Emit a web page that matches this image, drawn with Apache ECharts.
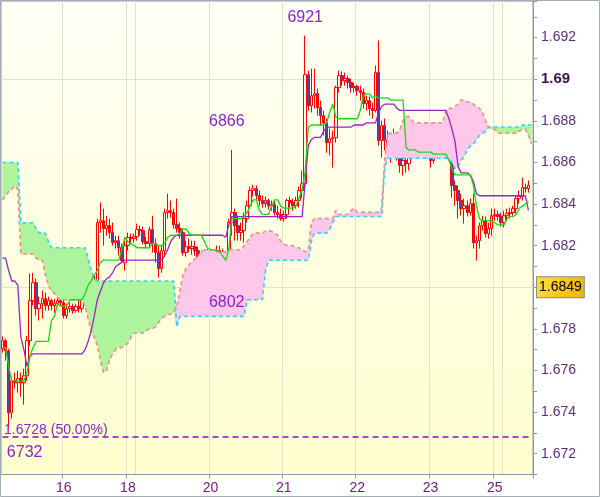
<!DOCTYPE html>
<html><head><meta charset="utf-8">
<script src="https://cdn.jsdelivr.net/npm/echarts@6/dist/echarts.min.js"></script>
<style>html,body{margin:0;padding:0;background:#fff}#c{width:600px;height:497px}</style>
</head><body><div id="c"></div>
<script>
// ---------- DATA ----------
const slotCount = 174; // hourly slots
const dayLabels = {20:'16', 41:'18', 68:'20', 92:'21', 116:'22', 140:'23', 161:'25'};
const dayStarts = [20, 41, 44, 68, 92, 116, 140, 161, 164];
const yGridValues = [1.672,1.674,1.676,1.678,1.680,1.682,1.684,1.686,1.688,1.690,1.692];

const opens = [
1.67705,1.67743,1.67695,1.67397,1.67551,1.67541,1.67561,1.67541,1.67575,1.67743,
1.67936,1.68022,1.67897,1.67921,1.67945,1.67912,1.67936,1.67912,1.67921,1.67936,
1.67926,1.67864,1.67897,1.67907,1.67888,1.67907,1.67897,1.67960,1.68046,1.68008,
1.67984,1.68008,1.68311,1.68320,1.68282,1.68296,1.68263,1.68214,1.68224,1.68191,
1.68118,1.68200,1.68239,1.68234,1.68243,1.68277,1.68272,1.68219,1.68210,1.68277,
1.68210,1.68167,1.68090,1.68176,1.68359,1.68368,1.68359,1.68301,1.68282,1.68263,
1.68167,1.68195,1.68186,1.68195,1.68176,1.68128,1.68147,1.68142,1.68152,1.68138,
1.68109,1.68176,1.68167,1.68128,1.68056,1.68311,1.68359,1.68296,1.68263,1.68272,
1.68330,1.68392,1.68465,1.68474,1.68441,1.68417,1.68402,1.68417,1.68392,1.68397,
1.68359,1.68349,1.68330,1.68349,1.68417,1.68407,1.68392,1.68417,1.68465,1.68498,
1.69022,1.68873,1.68921,1.68931,1.68864,1.68825,1.68791,1.68695,1.68714,1.68719,
1.68960,1.69017,1.68993,1.69003,1.68984,1.68960,1.68965,1.68945,1.68936,1.68883,
1.68897,1.68859,1.68849,1.69032,1.68705,1.68777,1.68705,1.68657,1.68681,1.68729,
1.68657,1.68585,1.68609,1.68594,1.68647,1.68666,1.68690,1.68671,1.68690,1.68666,
1.68657,1.68609,1.68666,1.68681,1.68705,1.68729,1.68739,1.68633,1.68489,1.68465,
1.68417,1.68378,1.68392,1.68359,1.68402,1.68214,1.68224,1.68296,1.68320,1.68258,
1.68282,1.68344,1.68349,1.68340,1.68311,1.68344,1.68354,1.68359,1.68378,1.68426,
1.68436,1.68479,1.68474];
const closes = [
1.67743,1.67695,1.67397,1.67551,1.67541,1.67561,1.67541,1.67575,1.67743,1.67936,
1.68022,1.67897,1.67921,1.67945,1.67912,1.67936,1.67912,1.67921,1.67936,1.67926,
1.67864,1.67897,1.67907,1.67888,1.67907,1.67897,1.67960,1.68046,1.68008,1.67984,
1.68008,1.68311,1.68320,1.68282,1.68296,1.68263,1.68214,1.68224,1.68191,1.68128,
1.68200,1.68239,1.68234,1.68243,1.68277,1.68272,1.68219,1.68210,1.68277,1.68210,
1.68167,1.68090,1.68176,1.68359,1.68368,1.68359,1.68301,1.68282,1.68263,1.68167,
1.68195,1.68186,1.68195,1.68176,1.68128,1.68147,1.68142,1.68152,1.68138,1.68109,
1.68176,1.68167,1.68128,1.68056,1.68311,1.68359,1.68296,1.68263,1.68272,1.68330,
1.68392,1.68465,1.68474,1.68441,1.68417,1.68402,1.68417,1.68392,1.68397,1.68359,
1.68349,1.68330,1.68349,1.68417,1.68407,1.68392,1.68417,1.68465,1.68498,1.69022,
1.68873,1.68921,1.68931,1.68864,1.68825,1.68791,1.68695,1.68714,1.68719,1.68960,
1.69017,1.68993,1.69003,1.68984,1.68960,1.68965,1.68945,1.68936,1.68883,1.68897,
1.68859,1.68849,1.69032,1.68705,1.68777,1.68705,1.68657,1.68681,1.68729,1.68657,
1.68585,1.68609,1.68594,1.68647,1.68666,1.68690,1.68671,1.68690,1.68666,1.68657,
1.68609,1.68666,1.68681,1.68705,1.68729,1.68739,1.68633,1.68489,1.68465,1.68417,
1.68378,1.68392,1.68359,1.68402,1.68214,1.68224,1.68296,1.68320,1.68258,1.68282,
1.68344,1.68349,1.68340,1.68311,1.68344,1.68354,1.68359,1.68378,1.68426,1.68436,
1.68479,1.68474,1.68490];
const highs = [
1.67763,1.67753,1.67705,1.67570,1.67590,1.67599,1.67590,1.67609,1.67767,1.68066,
1.68070,1.68042,1.67955,1.67984,1.67974,1.67955,1.67945,1.67945,1.67950,1.67950,
1.67945,1.67921,1.67926,1.67921,1.67921,1.67936,1.67984,1.68090,1.68070,1.68032,
1.68056,1.68330,1.68407,1.68378,1.68344,1.68330,1.68311,1.68248,1.68248,1.68210,
1.68224,1.68263,1.68258,1.68258,1.68306,1.68296,1.68291,1.68243,1.68291,1.68344,
1.68234,1.68200,1.68200,1.68378,1.68450,1.68417,1.68378,1.68426,1.68311,1.68282,
1.68224,1.68234,1.68224,1.68224,1.68195,1.68176,1.68176,1.68186,1.68176,1.68176,
1.68200,1.68200,1.68186,1.68152,1.68330,1.68660,1.68378,1.68344,1.68311,1.68359,
1.68417,1.68484,1.68493,1.68489,1.68465,1.68441,1.68436,1.68426,1.68417,1.68417,
1.68392,1.68378,1.68368,1.68426,1.68436,1.68426,1.68436,1.68484,1.68561,1.69210,
1.69041,1.69051,1.69051,1.68955,1.68897,1.68849,1.68811,1.68763,1.68753,1.68969,
1.69041,1.69037,1.69032,1.69017,1.69003,1.68984,1.68974,1.68969,1.68955,1.68921,
1.68917,1.68888,1.69066,1.69186,1.68801,1.68811,1.68753,1.68729,1.68763,1.68743,
1.68681,1.68633,1.68657,1.68666,1.68690,1.68714,1.68714,1.68714,1.68705,1.68690,
1.68681,1.68690,1.68705,1.68729,1.68753,1.68758,1.68753,1.68657,1.68513,1.68489,
1.68450,1.68426,1.68417,1.68426,1.68450,1.68248,1.68311,1.68344,1.68340,1.68311,
1.68378,1.68378,1.68368,1.68359,1.68368,1.68378,1.68383,1.68392,1.68441,1.68465,
1.68527,1.68498,1.68513];
const lows = [
1.67686,1.67647,1.67320,1.67368,1.67513,1.67493,1.67474,1.67436,1.67551,1.67719,
1.67912,1.67864,1.67840,1.67849,1.67888,1.67888,1.67888,1.67878,1.67907,1.67912,
1.67849,1.67849,1.67878,1.67873,1.67878,1.67878,1.67878,1.67936,1.67984,1.67936,
1.67926,1.67974,1.68263,1.68200,1.68248,1.68234,1.68200,1.68186,1.68152,1.68118,
1.68080,1.68176,1.68210,1.68214,1.68224,1.68248,1.68205,1.68186,1.68186,1.68167,
1.68118,1.68046,1.68070,1.68152,1.68330,1.68335,1.68282,1.68263,1.68234,1.68152,
1.68147,1.68167,1.68157,1.68152,1.68114,1.68118,1.68128,1.68118,1.68090,1.68090,
1.68090,1.68147,1.68118,1.68020,1.68032,1.68248,1.68224,1.68224,1.68224,1.68214,
1.68311,1.68378,1.68436,1.68417,1.68392,1.68383,1.68383,1.68373,1.68368,1.68344,
1.68330,1.68320,1.68315,1.68330,1.68383,1.68368,1.68378,1.68383,1.68431,1.68474,
1.68849,1.68840,1.68859,1.68825,1.68777,1.68729,1.68647,1.68633,1.68575,1.68695,
1.68936,1.68969,1.68969,1.68955,1.68936,1.68936,1.68921,1.68897,1.68859,1.68849,
1.68825,1.68811,1.68840,1.68681,1.68623,1.68657,1.68618,1.68599,1.68633,1.68609,
1.68551,1.68537,1.68551,1.68561,1.68618,1.68647,1.68633,1.68647,1.68647,1.68618,
1.68575,1.68594,1.68647,1.68657,1.68676,1.68695,1.68609,1.68431,1.68392,1.68330,
1.68344,1.68306,1.68340,1.68344,1.68186,1.68128,1.68186,1.68272,1.68239,1.68234,
1.68248,1.68320,1.68320,1.68291,1.68287,1.68320,1.68330,1.68344,1.68354,1.68402,
1.68417,1.68455,1.68455];

const tenkan = [
1.6771,1.6771,1.6762,1.6755,1.6755,1.6755,1.6755,1.6755,1.6759,1.6767,
1.6771,1.6774,1.6774,1.6774,1.6774,1.6774,1.6784,1.6786,1.6792,1.6791,
1.6791,1.6791,1.6794,1.6794,1.6794,1.6794,1.6794,1.6797,1.6801,1.6803,
1.6806,1.6808,1.6812,1.6813,1.6813,1.6813,1.6813,1.6813,1.6813,1.6818,
1.6824,1.6822,1.6821,1.6820,1.6819,1.6819,1.6819,1.6819,1.6819,1.6821,
1.6821,1.6820,1.6820,1.6821,1.6824,1.6825,1.6825,1.6825,1.6826,1.6828,
1.6828,1.6826,1.6825,1.6825,1.6825,1.6825,1.6822,1.6819,1.6818,1.6818,
1.6818,1.6817,1.6815,1.6813,1.6818,1.6833,1.6833,1.6833,1.6833,1.6834,
1.6836,1.6839,1.6842,1.6842,1.6837,1.6835,1.6835,1.6835,1.6839,1.6842,
1.6842,1.6839,1.6838,1.6838,1.6838,1.6838,1.6839,1.6843,1.6847,1.6856,
1.6877,1.6878,1.6878,1.6878,1.6878,1.6878,1.6879,1.6884,1.6888,1.6882,
1.6881,1.6881,1.6881,1.6881,1.6881,1.6881,1.6881,1.6885,1.6892,1.6893,
1.6893,1.6891,1.6892,1.6891,1.6891,1.6891,1.6891,1.6890,1.6890,1.6890,
1.6890,1.6890,1.6867,1.6866,1.6866,1.6866,1.6865,1.6865,1.6865,1.6865,
1.6865,1.6864,1.6864,1.6864,1.6864,1.6864,1.6861,1.6857,1.6854,1.6854,
1.6854,1.6854,1.6854,1.6854,1.6849,1.6839,1.6833,1.6832,1.6832,1.6832,
1.6832,1.6831,1.6830,1.6830,1.6830,1.6833,1.6834,1.6834,1.6835,1.6838,
1.6839,1.6840,1.6841,null];
const kijun = [
1.6814,1.6814,1.6808,1.6803,1.6803,1.6801,1.6776,1.6770,1.6762,1.6767,
1.6768,1.6768,1.6768,1.6768,1.6768,1.6768,1.6768,1.6768,1.6768,1.6768,
1.6768,1.6768,1.6768,1.6768,1.6768,1.6768,1.6768,1.6770,1.6774,1.6779,
1.6786,1.6794,1.6798,1.6802,1.6804,1.6805,1.6807,1.6810,1.6811,1.6812,
1.6813,1.6813,1.6813,1.6813,1.6813,1.6813,1.6813,1.6813,1.6813,1.6813,
1.6813,1.6813,1.6813,1.6815,1.6818,1.6822,1.6824,1.6825,1.6825,1.6825,
1.6825,1.6825,1.6825,1.6825,1.6825,1.6825,1.6825,1.6825,1.6825,1.6825,
1.6825,1.6825,1.6825,1.6824,1.6830,1.6834,1.6834,1.6834,1.6834,1.6834,
1.6834,1.6834,1.6834,1.6834,1.6834,1.6834,1.6834,1.6834,1.6834,1.6834,
1.6834,1.6834,1.6834,1.6834,1.6834,1.6834,1.6834,1.6834,1.6834,1.6851,
1.6868,1.6871,1.6872,1.6872,1.6872,1.6875,1.6877,1.6877,1.6877,1.6877,
1.6877,1.6877,1.6877,1.6877,1.6877,1.6878,1.6878,1.6878,1.6878,1.6879,
1.6879,1.6879,1.6879,1.6884,1.6887,1.6888,1.6888,1.6888,1.6888,1.6886,
1.6885,1.6885,1.6885,1.6885,1.6885,1.6885,1.6885,1.6885,1.6885,1.6885,
1.6885,1.6885,1.6885,1.6885,1.6885,1.6885,1.6881,1.6876,1.6870,1.6858,
1.6855,1.6855,1.6855,1.6854,1.6851,1.6845,1.6844,1.6844,1.6844,1.6844,
1.6844,1.6844,1.6844,1.6844,1.6844,1.6844,1.6844,1.6844,1.6844,1.6844,
1.6844,1.6844,1.6837,null];
const spanA = [
1.6860,1.6860,1.6860,1.6860,1.6860,1.6860,1.6831,1.6831,1.6831,1.6831,
1.6831,1.6828,1.6826,1.6826,1.6826,1.6822,1.6819,1.6819,1.6819,1.6819,
1.6819,1.6819,1.6819,1.6819,1.6819,1.6819,1.6819,1.6819,1.6814,1.6808,
1.6804,1.6803,1.6803,1.6803,1.6803,1.6803,1.6803,1.6803,1.6803,1.6803,
1.6803,1.6803,1.6803,1.6803,1.6803,1.6803,1.6803,1.6803,1.6803,1.6803,
1.6803,1.6803,1.6803,1.6803,1.6803,1.6803,1.6803,1.6781,1.6786,1.6786,
1.6786,1.6786,1.6786,1.6786,1.6786,1.6786,1.6786,1.6786,1.6786,1.6786,
1.6786,1.6786,1.6786,1.6786,1.6786,1.6786,1.6786,1.6786,1.6786,1.6786,
1.6794,1.6794,1.6794,1.6794,1.6794,1.6794,1.6808,1.6813,1.6813,1.6813,
1.6813,1.6813,1.6813,1.6813,1.6813,1.6813,1.6813,1.6813,1.6813,1.6813,
1.6813,1.6822,1.6826,1.6826,1.6826,1.6826,1.6826,1.6828,1.6831,1.6834,
1.6834,1.6834,1.6834,1.6834,1.6834,1.6834,1.6834,1.6834,1.6834,1.6834,
1.6834,1.6834,1.6834,1.6834,1.6834,1.6858,1.6862,1.6862,1.6862,1.6862,
1.6862,1.6862,1.6862,1.6862,1.6862,1.6862,1.6862,1.6862,1.6862,1.6862,
1.6862,1.6862,1.6862,1.6862,1.6862,1.6862,1.6862,1.6860,1.6857,1.6858,
1.6861,1.6863,1.6866,1.6868,1.6869,1.6871,1.6873,1.6874,1.6875,1.6877,
1.6877,1.6877,1.6877,1.6877,1.6877,1.6877,1.6877,1.6877,1.6877,1.6877,
1.6878,1.6878,1.6878,1.6878];
const spanB = [
1.6842,1.6844,1.6846,1.6847,1.6849,1.6847,1.6816,1.6816,1.6816,1.6816,
1.6816,1.6814,1.6813,1.6813,1.6806,1.6801,1.6798,1.6797,1.6795,1.6794,
1.6794,1.6794,1.6794,1.6794,1.6794,1.6794,1.6794,1.6791,1.6785,1.6779,
1.6776,1.6772,1.6765,1.6759,1.6760,1.6765,1.6768,1.6770,1.6771,1.6771,
1.6772,1.6773,1.6776,1.6778,1.6778,1.6778,1.6778,1.6779,1.6780,1.6780,
1.6781,1.6783,1.6785,1.6786,1.6787,1.6787,1.6788,1.6791,1.6798,1.6806,
1.6809,1.6811,1.6812,1.6814,1.6815,1.6817,1.6818,1.6818,1.6818,1.6818,
1.6817,1.6817,1.6817,1.6817,1.6818,1.6818,1.6818,1.6818,1.6818,1.6820,
1.6822,1.6824,1.6826,1.6826,1.6826,1.6826,1.6827,1.6827,1.6827,1.6826,
1.6825,1.6822,1.6821,1.6820,1.6820,1.6820,1.6819,1.6819,1.6818,1.6817,
1.6818,1.6831,1.6833,1.6833,1.6833,1.6833,1.6833,1.6833,1.6833,1.6837,
1.6835,1.6835,1.6835,1.6835,1.6837,1.6838,1.6836,1.6836,1.6836,1.6836,
1.6836,1.6836,1.6836,1.6836,1.6838,1.6861,1.6874,1.6874,1.6874,1.6874,
1.6876,1.6880,1.6882,1.6882,1.6880,1.6879,1.6879,1.6879,1.6879,1.6879,
1.6879,1.6879,1.6879,1.6879,1.6879,1.6885,1.6886,1.6886,1.6887,1.6888,
1.6890,1.6890,1.6889,1.6889,1.6888,1.6887,1.6886,1.6884,1.6880,1.6877,
1.6876,1.6876,1.6874,1.6874,1.6874,1.6874,1.6874,1.6874,1.6874,1.6875,
1.6876,1.6876,1.6873,1.6869];

const pivotLevel = 1.6728;
const pivotText = '1.6728 (50.00%)';
const lastPrice = 1.6849;
const annotations = [
  {slot: 99, value: 1.6921, text: '6921'},
  {slot: 75, value: 1.6866, text: '6866'},
  {slot: 73, value: 1.6802, text: '6802'},
  {slot: 2,  value: 1.6732, text: '6732'}
];

// ---------- STYLE ----------
const AXISFONT = "'Liberation Sans',Arial,sans-serif";
const SANS = "'Liberation Sans',Arial,sans-serif";
const PURPLE = '#8b22d0';
const AXIS_GRAY = '#8e99a4';
const annotationOffsets = {'6921':[0,-18], '6866':[-5,-28], '6802':[1,19], '6732':[16,24]};

const categories = Array.from({length: slotCount}, (_, i) => String(i));
const candles = opens.map((o, i) => [o, closes[i], lows[i], highs[i]]);
const cloudLow  = spanA.map((a, i) => Math.min(a, spanB[i]));
const cloudBull = spanA.map((a, i) => a >= spanB[i] ? a - spanB[i] : 0);
const cloudBear = spanA.map((a, i) => spanB[i] > a ? spanB[i] - a : 0);
const pivotSeries = categories.map(() => pivotLevel); // one horizontal level

const gridLineItems = yGridValues.map(v => ({yAxis: v, lineStyle: {
  color: (Math.round(v * 1000) % 10 === 0) ? '#cfcfa6' : '#e3e1c6', width: 1, type: 'solid'}}));

const markPointData = annotations.map(a => ({coord: [a.slot, a.value], value: a.text,
  label: {formatter: a.text, offset: annotationOffsets[a.text]}}));
markPointData.push({coord: [0, pivotLevel], value: pivotText,
  label: {formatter: pivotText, position: 'right', distance: 1, offset: [0, -7], fontSize: 14}});

const chart = echarts.init(document.getElementById('c'), null, {renderer: 'canvas'});
const option = {
  animation: false,
  backgroundColor: '#ffffff',
  grid: {
    left: 1, top: 1, right: 67, bottom: 22.5, show: true,
    borderColor: AXIS_GRAY, borderWidth: 1,
    backgroundColor: new echarts.graphic.LinearGradient(0, 0, 0, 1, [
      {offset: 0, color: '#fffff6'}, {offset: 1, color: '#ffffcf'}])
  },
  xAxis: {
    type: 'category', data: categories, boundaryGap: true,
    axisLine: {lineStyle: {color: AXIS_GRAY}},
    axisTick: {show: true, length: 4, interval: (i) => (i in dayLabels), lineStyle: {color: AXIS_GRAY}},
    axisLabel: {interval: (i) => (i in dayLabels), formatter: (v, i) => dayLabels[i] || '',
      color: '#7a1a80', fontSize: 14, fontFamily: AXISFONT, margin: 7},
    splitLine: {show: true, interval: (i) => dayStarts.includes(i), lineStyle: {color: '#e3e1c6', width: 1}}
  },
  yAxis: {
    type: 'value', position: 'right', min: 1.671, max: 1.69376, interval: 0.001,
    axisLine: {show: true, lineStyle: {color: AXIS_GRAY}},
    axisTick: {show: true, length: 4, lineStyle: {color: AXIS_GRAY}},
    splitLine: {show: false},
    axisLabel: {
      margin: 8, color: '#5e2c80', fontSize: 14, fontFamily: AXISFONT,
      formatter: (v) => {
        const k = Math.round(v * 1000);
        if (Math.abs(v * 1000 - k) > 1e-6 || k % 2 !== 0) return '';
        if (k % 10 === 0) return '{b|' + (k / 1000).toFixed(2) + '}';
        return (k / 1000).toFixed(3);
      },
      rich: {b: {fontWeight: 'bold', fontSize: 15, color: '#3c1250', fontFamily: AXISFONT}}
    }
  },
  graphic: [{type: 'rect', silent: true, z: 100,
    shape: {x: 0.5, y: 0.5, width: 599, height: 496},
    style: {fill: 'none', stroke: '#a3adb6', lineWidth: 1}}],
  series: [
    {name: 'cloudBase', type: 'line', data: cloudLow, stack: 'cloud', symbol: 'none',
     lineStyle: {width: 0, opacity: 0}, silent: true,
     markLine: {silent: true, z: 1, symbol: ['none', 'none'], label: {show: false},
       data: gridLineItems}},
    {name: 'cloudBull', type: 'line', data: cloudBull, stack: 'cloud', symbol: 'none',
     lineStyle: {width: 0, opacity: 0}, areaStyle: {color: '#adf49d', opacity: 1}, silent: true},
    {name: 'cloudBear', type: 'line', data: cloudBear, stack: 'cloud', symbol: 'none',
     lineStyle: {width: 0, opacity: 0}, areaStyle: {color: '#ffc8ea', opacity: 1}, silent: true},
    {name: 'pivot', type: 'line', data: pivotSeries, symbol: 'none', silent: true,
     lineStyle: {color: '#9000d8', width: 1.5, type: [6, 4]}},
    {name: 'spanA', type: 'line', data: spanA, symbol: 'none', silent: true,
     lineStyle: {color: '#2ad6f2', width: 1.6, type: [4, 3]}},
    {name: 'spanB', type: 'line', data: spanB, symbol: 'none', silent: true,
     lineStyle: {color: '#f18c86', width: 1.6, type: [4, 3]}},
    {name: 'price', type: 'candlestick', data: candles, barWidth: 3,
     itemStyle: {color: 'rgba(0,0,0,0)', color0: '#5a40a8', borderColor: '#ff0000',
       borderColor0: '#ff0000', borderColorDoji: '#ff0000', borderWidth: 1},
     markPoint: {silent: true, symbol: 'circle', symbolSize: 1, itemStyle: {color: 'rgba(0,0,0,0)'},
       label: {show: true, position: 'inside', color: PURPLE, fontSize: 16, fontFamily: SANS},
       data: markPointData},
     markLine: {silent: true, symbol: ['none', 'none'],
       data: [
         {yAxis: lastPrice, lineStyle: {color: 'rgba(0,0,0,0)', width: 0},
          label: {show: true, position: 'end', formatter: lastPrice.toFixed(4), color: '#000',
            fontSize: 14, fontFamily: AXISFONT, distance: 4, padding: [4, 2, 2, 2],
            borderColor: '#8a8a8a', borderWidth: 1,
            backgroundColor: new echarts.graphic.LinearGradient(0, 0, 1, 1, [
              {offset: 0, color: '#ffe040'}, {offset: 1, color: '#f0b000'}])}}
       ]}},
    {name: 'kijun', type: 'line', data: kijun, symbol: 'none', silent: true,
     lineStyle: {color: '#9a22c8', width: 1.3}},
    {name: 'tenkan', type: 'line', data: tenkan, symbol: 'none', silent: true,
     lineStyle: {color: '#10dd10', width: 1.3}}
  ]
};
chart.setOption(option);
</script></body></html>
